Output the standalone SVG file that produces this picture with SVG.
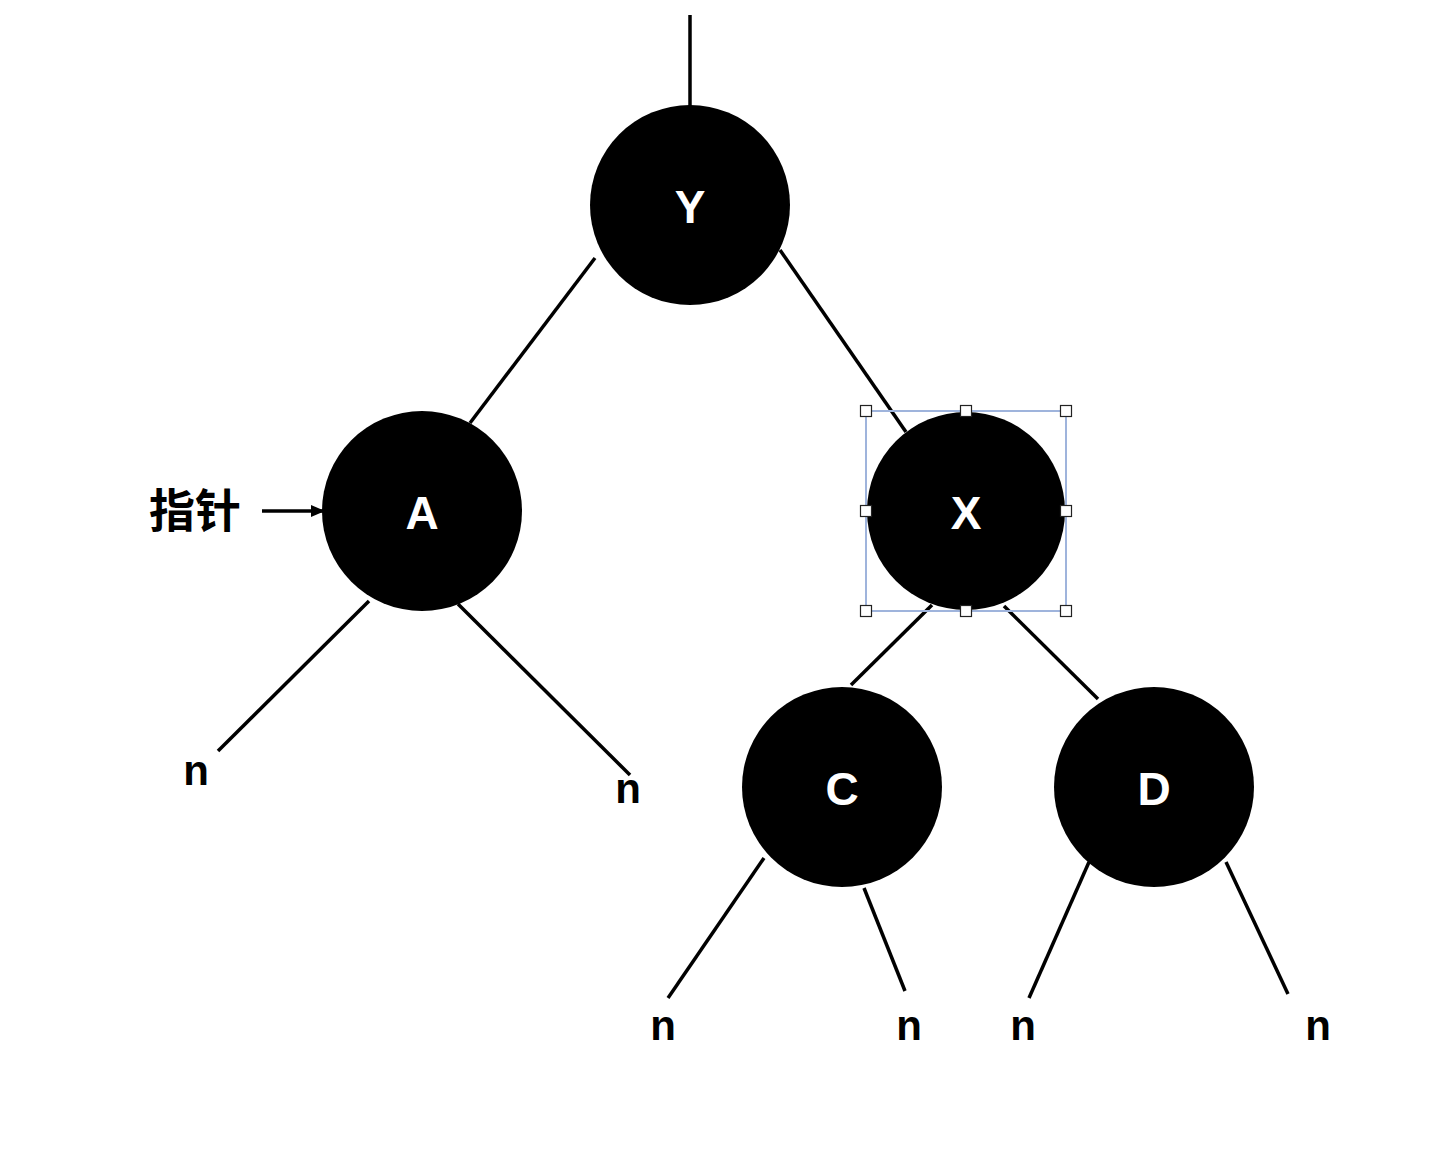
<svg xmlns="http://www.w3.org/2000/svg" width="1448" height="1158" viewBox="0 0 1448 1158">
<style>
.node{fill:#000}
.lbl{font-family:"Liberation Sans",Arial,sans-serif;font-weight:bold;font-size:46px;fill:#fff;text-anchor:middle;dominant-baseline:central}
.n{font-family:"Liberation Sans",Arial,sans-serif;font-weight:bold;font-size:42px;fill:#000;text-anchor:middle;dominant-baseline:central}
.edge{stroke:#000;stroke-width:3.5;fill:none}
.cjk{font-family:"Liberation Sans","Noto Sans CJK SC",sans-serif;font-weight:bold;font-size:46px;fill:#000;dominant-baseline:central}
.h{fill:#fff;stroke:#222;stroke-width:1.2}
</style>
<defs>
<marker id="ah" markerWidth="14" markerHeight="12" refX="13" refY="6" orient="auto" markerUnits="userSpaceOnUse" viewBox="0 0 14 12">
<path d="M0,0 L14,6 L0,12 z" fill="#000"/>
</marker>
</defs>
<rect width="1448" height="1158" fill="#fff"/>
<g id="connectors">
<line class="edge" x1="690" y1="15" x2="690" y2="106"/>
<line class="edge" x1="595" y1="258" x2="470" y2="423"/>
<line class="edge" x1="780" y1="250" x2="906" y2="432"/>
<line class="edge" x1="369" y1="601" x2="218" y2="751"/>
<line class="edge" x1="458" y1="604" x2="630" y2="775"/>
<line class="edge" x1="932" y1="605" x2="851" y2="685"/>
<line class="edge" x1="1004" y1="606" x2="1098" y2="699"/>
<line class="edge" x1="764" y1="858" x2="668" y2="998"/>
<line class="edge" x1="864" y1="888" x2="905" y2="991"/>
<line class="edge" x1="1089" y1="862" x2="1029" y2="998"/>
<line class="edge" x1="1226" y1="862" x2="1288" y2="994"/>
<line class="edge" x1="262" y1="511" x2="324" y2="511" marker-end="url(#ah)"/>
</g>
<g id="node-Y"><circle class="node" cx="690" cy="205" r="100"/><text class="lbl" x="690" y="207">Y</text></g>
<g id="node-A"><circle class="node" cx="422" cy="511" r="100"/><text class="lbl" x="422" y="513">A</text></g>
<g id="node-X"><circle class="node" cx="966" cy="511" r="99"/><text class="lbl" x="966" y="513">X</text></g>
<g id="node-C"><circle class="node" cx="842" cy="787" r="100"/><text class="lbl" x="842" y="789">C</text></g>
<g id="node-D"><circle class="node" cx="1154" cy="787" r="100"/><text class="lbl" x="1154" y="789">D</text></g>
<g id="selection">
<rect x="866" y="411" width="200" height="200" fill="none" stroke="#9fb4dc" stroke-width="2"/>
<rect class="h" x="860.5" y="405.5" width="11" height="11"/>
<rect class="h" x="960.5" y="405.5" width="11" height="11"/>
<rect class="h" x="1060.5" y="405.5" width="11" height="11"/>
<rect class="h" x="860.5" y="505.5" width="11" height="11"/>
<rect class="h" x="1060.5" y="505.5" width="11" height="11"/>
<rect class="h" x="860.5" y="605.5" width="11" height="11"/>
<rect class="h" x="960.5" y="605.5" width="11" height="11"/>
<rect class="h" x="1060.5" y="605.5" width="11" height="11"/>
</g>
<g id="labels">
<text class="cjk" x="149" y="511">指针</text>
<text class="n" x="196" y="770">n</text>
<text class="n" x="628" y="788">n</text>
<text class="n" x="663" y="1025">n</text>
<text class="n" x="909" y="1025">n</text>
<text class="n" x="1023" y="1025">n</text>
<text class="n" x="1318" y="1025">n</text>
</g>
</svg>
